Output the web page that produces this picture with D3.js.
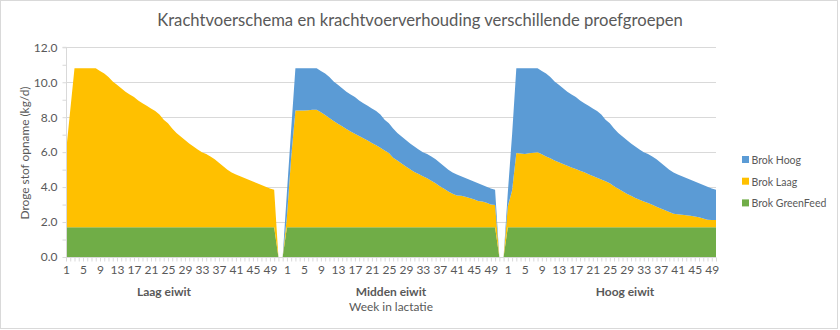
<!DOCTYPE html>
<html>
<head>
<meta charset="utf-8">
<script src="https://cdn.jsdelivr.net/npm/d3@7"></script>
<style>
  html, body { margin: 0; padding: 0; background: #ffffff; }
  svg { display: block; }
  text { font-family: Lato, "Open Sans", "Liberation Sans", sans-serif; fill: #595959; }
</style>
</head>
<body>
<svg id="chart" width="840" height="330"></svg>
<script>
// ---------------- DATA ----------------
const chartTitle = "Krachtvoerschema en krachtvoerverhouding verschillende proefgroepen";
const yAxisTitle = "Droge stof opname (kg/d)";
const xAxisTitle = "Week in lactatie";
const groups = ["Laag eiwit", "Midden eiwit", "Hoog eiwit"];
const groupWeekCount = [52, 52, 50];
const tickWeeks = [1, 5, 9, 13, 17, 21, 25, 29, 33, 37, 41, 45, 49];
const yTicks = [0, 2, 4, 6, 8, 10, 12];
const seriesNames = ["Brok GreenFeed", "Brok Laag", "Brok Hoog"];

// Laag eiwit group (weeks 1..52)
const laagGreenFeed = [1.7,1.7,1.7,1.7,1.7,1.7,1.7,1.7,1.7,1.7,1.7,1.7,1.7,1.7,1.7,1.7,1.7,1.7,1.7,1.7,1.7,1.7,1.7,1.7,1.7,1.7,1.7,1.7,1.7,1.7,1.7,1.7,1.7,1.7,1.7,1.7,1.7,1.7,1.7,1.7,1.7,1.7,1.7,1.7,1.7,1.7,1.7,1.7,1.7,1.7,0,0];
const laagBrokLaag = [4.3,6.7,9.1,9.1,9.1,9.1,9.1,9.1,8.95,8.8,8.6,8.35,8.15,7.95,7.75,7.6,7.45,7.25,7.1,6.95,6.8,6.65,6.45,6.15,5.95,5.65,5.4,5.2,5.0,4.8,4.62,4.45,4.3,4.2,4.05,3.9,3.7,3.5,3.3,3.13,3.02,2.92,2.82,2.72,2.62,2.52,2.42,2.32,2.22,2.15,0,0];
const laagBrokHoog = [0,0,0,0,0,0,0,0,0,0,0,0,0,0,0,0,0,0,0,0,0,0,0,0,0,0,0,0,0,0,0,0,0,0,0,0,0,0,0,0,0,0,0,0,0,0,0,0,0,0,0,0];

// Midden eiwit group (weeks 1..52)
const middenGreenFeed = [1.7,1.7,1.7,1.7,1.7,1.7,1.7,1.7,1.7,1.7,1.7,1.7,1.7,1.7,1.7,1.7,1.7,1.7,1.7,1.7,1.7,1.7,1.7,1.7,1.7,1.7,1.7,1.7,1.7,1.7,1.7,1.7,1.7,1.7,1.7,1.7,1.7,1.7,1.7,1.7,1.7,1.7,1.7,1.7,1.7,1.7,1.7,1.7,1.7,1.7,0,0];
const middenBrokLaag = [0.6,4.0,6.68,6.68,6.68,6.7,6.72,6.72,6.58,6.42,6.25,6.08,5.92,5.78,5.63,5.48,5.35,5.22,5.1,4.97,4.83,4.69,4.55,4.4,4.25,3.98,3.82,3.65,3.48,3.32,3.17,3.05,2.92,2.8,2.67,2.52,2.35,2.2,2.05,1.92,1.82,1.8,1.75,1.68,1.6,1.5,1.48,1.4,1.3,1.28,0,0];
const middenBrokHoog = [1.4,1.6,2.42,2.42,2.42,2.4,2.38,2.38,2.37,2.38,2.35,2.27,2.23,2.17,2.12,2.12,2.1,2.03,2.0,1.98,1.97,1.96,1.9,1.75,1.7,1.67,1.58,1.55,1.52,1.48,1.45,1.4,1.38,1.4,1.38,1.38,1.35,1.3,1.25,1.21,1.2,1.12,1.07,1.04,1.02,1.02,0.94,0.92,0.92,0.87,0,0];

// Hoog eiwit group (weeks 1..50)
const hoogGreenFeed = [1.7,1.7,1.7,1.7,1.7,1.7,1.7,1.7,1.7,1.7,1.7,1.7,1.7,1.7,1.7,1.7,1.7,1.7,1.7,1.7,1.7,1.7,1.7,1.7,1.7,1.7,1.7,1.7,1.7,1.7,1.7,1.7,1.7,1.7,1.7,1.7,1.7,1.7,1.7,1.7,1.7,1.7,1.7,1.7,1.7,1.7,1.7,1.7,1.7,1.7];
const hoogBrokLaag = [1.2,2.1,4.25,4.22,4.2,4.23,4.27,4.3,4.18,4.05,3.95,3.82,3.72,3.62,3.52,3.42,3.33,3.24,3.15,3.04,2.94,2.84,2.74,2.64,2.52,2.35,2.2,2.06,1.92,1.8,1.68,1.58,1.48,1.39,1.29,1.18,1.07,0.97,0.87,0.78,0.75,0.72,0.69,0.66,0.62,0.57,0.51,0.43,0.42,0.42];
const hoogBrokHoog = [0.8,3.2,4.85,4.88,4.9,4.87,4.83,4.8,4.77,4.75,4.65,4.53,4.43,4.33,4.23,4.18,4.12,4.01,3.95,3.91,3.86,3.81,3.71,3.51,3.43,3.3,3.2,3.14,3.08,3.0,2.94,2.87,2.82,2.81,2.76,2.72,2.63,2.53,2.43,2.35,2.27,2.2,2.13,2.06,2.0,1.95,1.91,1.89,1.8,1.73];

// ---------------- BUILD TABLE ----------------
const groupSeries = [
  [laagGreenFeed, laagBrokLaag, laagBrokHoog],
  [middenGreenFeed, middenBrokLaag, middenBrokHoog],
  [hoogGreenFeed, hoogBrokLaag, hoogBrokHoog]
];
const rows = [];
groups.forEach((g, gi) => {
  for (let w = 1; w <= groupWeekCount[gi]; w++) {
    rows.push({
      key: g + "|" + w, group: g, week: w,
      "Brok GreenFeed": groupSeries[gi][0][w - 1],
      "Brok Laag": groupSeries[gi][1][w - 1],
      "Brok Hoog": groupSeries[gi][2][w - 1]
    });
  }
});

// ---------------- LAYOUT ----------------
const plot = { left: 66, right: 716, top: 47.3, bottom: 257 };
const colors = { "Brok Hoog": "#5B9BD5", "Brok Laag": "#FFC000", "Brok GreenFeed": "#70AD47" };
const textColor = "#595959", gridColor = "#D9D9D9";

const svg = d3.select("#chart");

// scale a text selection's font so that its rendered width equals target
function fitWidth(sel, baseSize, target) {
  sel.attr("font-size", baseSize);
  const w = sel.node().getComputedTextLength();
  const s = baseSize * target / w;
  sel.attr("font-size", s);
  return s;
}

// chart border
svg.append("rect").attr("x", 0.5).attr("y", 0.5).attr("width", 837).attr("height", 328)
  .attr("fill", "#fff").attr("stroke", gridColor).attr("stroke-width", 1);

const x = d3.scalePoint().domain(rows.map(d => d.key)).range([plot.left, plot.right]).padding(0);
const y = d3.scaleLinear().domain([0, 12]).range([plot.bottom, plot.top]);

// gridlines
svg.append("g").selectAll("line").data(yTicks.filter(t => t > 0)).join("line")
  .attr("x1", plot.left).attr("x2", plot.right)
  .attr("y1", d => Math.round(y(d)) + 0.5).attr("y2", d => Math.round(y(d)) + 0.5)
  .attr("stroke", gridColor).attr("stroke-width", 1);

// stacked areas
const stack = d3.stack().keys(seriesNames);
const layers = stack(rows);
const area = d3.area()
  .x(d => x(d.data.key))
  .y0(d => y(d[0]))
  .y1(d => y(d[1]));
svg.append("g").selectAll("path").data(layers).join("path")
  .attr("d", area)
  .attr("fill", d => colors[d.key]);

// y axis
const yAxis = d3.axisLeft(y).tickValues(d3.range(0, 12.01, 1)).tickSize(4)
  .tickFormat(d => (d % 2 === 0 ? d3.format(".1f")(d) : ""));
const gy = svg.append("g").attr("transform", `translate(${plot.left + 0.5},0)`).call(yAxis);
gy.select(".domain").attr("stroke", gridColor).attr("d", `M-4,${y(12)}H0V${y(0)}`);
gy.selectAll(".tick line").attr("stroke", gridColor);
gy.selectAll(".tick text").attr("fill", textColor).attr("font-size", 12)
  .attr("font-family", "Lato, 'Open Sans', sans-serif").attr("x", -9);

// x axis with a tick at every category
const xAxis = d3.axisBottom(x).tickSize(4)
  .tickFormat(k => { const r = rows.find(d => d.key === k); return tickWeeks.includes(r.week) ? r.week : ""; });
const gx = svg.append("g").attr("transform", `translate(0,${plot.bottom + 0.5})`).call(xAxis);
gx.select(".domain").attr("stroke", gridColor).attr("d", `M${plot.left},0H${plot.right}`);
gx.selectAll(".tick line").attr("stroke", gridColor);
gx.selectAll(".tick text").attr("fill", textColor).attr("font-size", 12)
  .attr("font-family", "Lato, 'Open Sans', sans-serif").attr("y", 8);

// group labels
const groupLabelX = [164, 391, 625];
const gl = svg.append("g").selectAll("text").data(groups).join("text")
  .attr("x", (d, i) => groupLabelX[i]).attr("y", 295.5)
  .attr("text-anchor", "middle").attr("font-weight", "bold")
  .attr("fill", textColor).text(d => d);
fitWidth(gl.filter((d, i) => i === 1), 12, 70.5);
gl.attr("font-size", gl.filter((d, i) => i === 1).attr("font-size"));

// axis titles
const xt = svg.append("text").attr("x", 391).attr("y", 311).attr("text-anchor", "middle")
  .attr("fill", textColor).text(xAxisTitle);
fitWidth(xt, 12.5, 84);
const yt = svg.append("text").attr("transform", `translate(29,153) rotate(-90)`).attr("text-anchor", "middle")
  .attr("fill", textColor).text(yAxisTitle);
fitWidth(yt, 12.5, 133);

// title
const title = svg.append("text").attr("x", 420).attr("y", 26).attr("text-anchor", "middle")
  .attr("fill", textColor).text(chartTitle);
fitWidth(title, 18.7, 526);

// legend
const legendOrder = ["Brok Hoog", "Brok Laag", "Brok GreenFeed"];
const lg = svg.append("g").selectAll("g").data(legendOrder).join("g")
  .attr("transform", (d, i) => `translate(742,${159.5 + i * 21.7})`);
lg.append("rect").attr("x", 0).attr("y", -3.5).attr("width", 7).attr("height", 7).attr("fill", d => colors[d]);
const lt = lg.append("text").attr("x", 9.5).attr("y", 4.3).attr("fill", textColor).text(d => d);
const ls = fitWidth(lt.filter(d => d === "Brok GreenFeed"), 12, 75);
lt.attr("font-size", ls);
</script>
</body>
</html>
